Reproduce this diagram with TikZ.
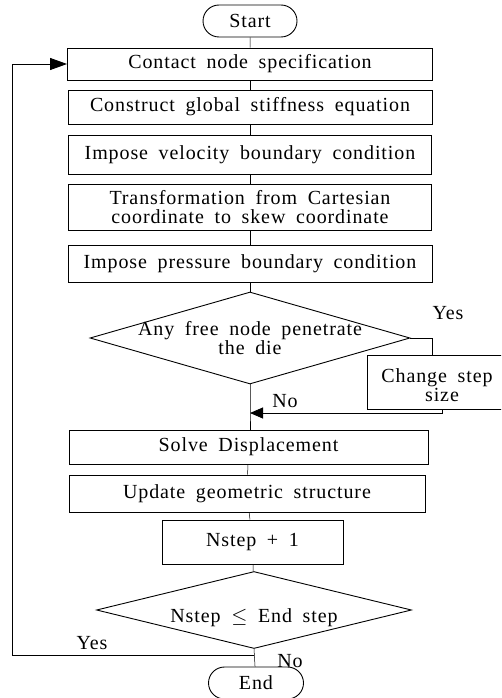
\documentclass[tikz,border=0pt]{standalone}
\usepackage{fontspec}
\setmainfont[LetterSpace=4.5,WordSpace=1.8]{Liberation Serif}
\usepackage{amssymb}
\usetikzlibrary{arrows.meta,shapes.geometric,shapes.misc}

\begin{document}
\begin{tikzpicture}[x=1pt,y=-1pt,line width=0.9pt,
  font=\fontsize{20}{23}\selectfont,
  box/.style={draw,rectangle,inner sep=0pt,align=center},
  term/.style={draw,rounded rectangle,inner sep=0pt},
  decide/.style={draw,diamond,inner sep=0pt},
  flow/.style={line width=0.5pt},
  tip/.style={-{Triangle[length=17pt,width=12pt]}},
  smalltip/.style={-{Triangle[length=13pt,width=11pt]}}]
\clip (0,0) rectangle (501,698);
\node[term,minimum width=94,minimum height=32] (start) at (250,21){Start};
\node[box,minimum width=365,minimum height=32] (contact) at (250,64){Contact node specification};
\node[box,minimum width=364,minimum height=34] (stiff) at (250,107){Construct global stiffness equation};
\node[box,minimum width=363,minimum height=39] (velo) at (250,154.5){Impose velocity boundary condition};
\node[box,minimum width=363,minimum height=46] (trans) at (250,207){Transformation from Cartesian\\[-4pt]coordinate to skew coordinate};
\node[box,minimum width=364,minimum height=37] (press) at (250,263.5){Impose pressure boundary condition};
\node[decide,minimum width=320,minimum height=92,
  label={[align=center]center:Any free node penetrate\\[-4pt]the die}] (pen) at (250,338){};
\node[box,minimum width=150,minimum height=54] (chg) at (442,382){};
\node[align=center] (chgtxt) at (437,385){Change step\\[-4pt]\hspace*{10pt}size};
\coordinate (join) at (250,413);
\node[box,minimum width=359,minimum height=34] (solve) at (248.5,447){Solve Displacement};
\node[box,minimum width=356,minimum height=37] (upd) at (247,493.5){Update geometric structure};
\node[box,minimum width=181,minimum height=44] (inc) at (252.5,542){Nstep + 1};
\node[decide,minimum width=315,minimum height=77,
  label={[yshift=-8pt]center:Nstep $\leq$ End step}] (cnt) at (254,610){};
\node[term,minimum width=95,minimum height=32] (fin) at (256,683){End};
\coordinate (back) at (254,655);
\coordinate (loopa) at (12,655);
\coordinate (loopb) at (12,64);
% main flow
\draw[flow] (start)--(contact);
\draw[flow] (contact)--(stiff);
\draw[flow] (stiff)--(velo);
\draw[flow] (velo)--(trans);
\draw[flow] (trans)--(press);
\draw[flow] (press)--(pen);
\draw[flow] (pen.south)--(join)--(join|-solve.north);
\draw[flow] (solve)--(upd);
\draw[flow] (upd)--(inc);
\draw[flow] (inc)--(cnt);
\draw[flow] (cnt.south)--(fin);
% branches
\draw (pen.east)-|(chg.north-|432,0);
\draw[smalltip] (chg.south)--(chg.south|-join)--(join);
\draw[tip] (back)--(loopa)--(loopb)--(contact.west);
\node (yes1) at (448,313){Yes};
\node (no1) at (285,401){No};
\node (yes2) at (92,643){Yes};
\node (no2) at (290,661){No};
\end{tikzpicture}
\end{document}
